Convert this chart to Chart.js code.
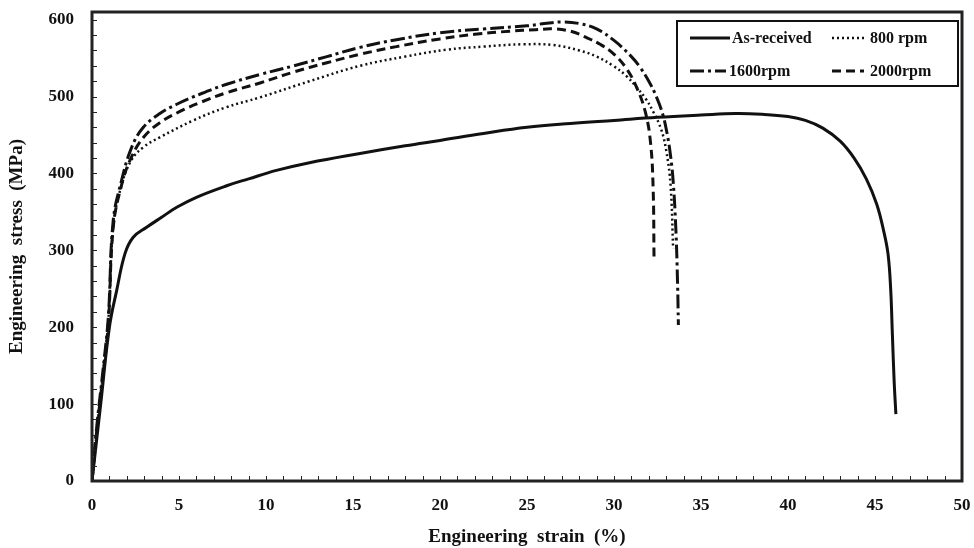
<!DOCTYPE html>
<html lang="en">
<head>
  <meta charset="UTF-8" />
  <title>Engineering stress-strain curves</title>
  <script src="https://cdn.jsdelivr.net/npm/chart.js"></script>
  <style>
    html, body { margin: 0; padding: 0; background: #fff; }
    .chart-box { width: 974px; height: 548px; position: relative; }
  </style>
</head>
<body>
  <div class="chart-box">
    <canvas id="ssChart"></canvas>
  </div>

  <script>
    // tick labels
    const xTicks = [0, 5, 10, 15, 20, 25, 30, 35, 40, 45, 50];
    const yTicks = [0, 100, 200, 300, 400, 500, 600];

    // As-received
    const asStrain = [0, 0.5, 1.0, 1.42, 1.9, 2.37, 3.14, 4.0, 4.87, 6.0, 7.74, 9.0, 10.6, 12.5, 15.4, 18, 20, 22.5, 25, 27.5, 30, 32.5, 35, 37, 38.5, 40, 41, 42, 43, 43.8, 44.5, 45.1, 45.5, 45.75, 45.9, 46.0, 46.1, 46.2];
    const asStress = [0, 100, 200, 248, 296, 317, 330, 343, 356, 369, 384, 393, 404, 414, 426, 436, 443, 452, 460, 465, 469, 473, 476, 478, 477, 474, 469, 459, 442, 420, 393, 360, 325, 295, 250, 190, 130, 87];

    // 800 rpm
    const r800Strain = [0, 0.3, 0.65, 0.95, 1.22, 1.7, 2.28, 3.0, 3.9, 5.82, 7.7, 9.66, 12.5, 15.4, 18, 20.4, 22.5, 24.8, 26.5, 28.0, 29.0, 29.95, 30.7, 31.3, 31.8, 32.26, 32.7, 33.0, 33.25, 33.4];
    const r800Stress = [0, 70, 145, 212, 330, 385, 418, 435, 447, 469, 486, 499, 520, 540, 552, 561, 565, 568, 567, 560, 552, 540, 527, 512, 498, 480, 458, 430, 385, 302];

    // 1600 rpm
    const r1600Strain = [0, 0.27, 0.65, 0.94, 1.22, 1.7, 2.28, 2.95, 3.9, 4.87, 6.3, 7.74, 9.7, 11.6, 13.5, 15.4, 17.5, 20, 22.5, 25, 26, 27, 28, 29, 30, 31, 31.5, 32.0, 32.45, 32.8, 33.05, 33.25, 33.4, 33.55, 33.65, 33.7];
    const r1600Stress = [0, 70, 148, 214, 339, 391, 434, 460, 478, 490, 504, 516, 529, 540, 552, 564, 574, 583, 588, 592, 595, 597, 595, 588, 573, 552, 538, 520, 499, 477, 452, 423, 390, 330, 260, 203];

    // 2000 rpm
    const r2000Strain = [0, 0.27, 0.65, 0.94, 1.22, 1.7, 2.28, 3.0, 3.9, 5.0, 6.3, 7.74, 9.7, 11.6, 13.5, 15.4, 17.5, 20, 22, 24, 25.5, 26.5, 27.5, 28.4, 29.2, 29.96, 30.7, 31.3, 31.8, 32.1, 32.25, 32.3];
    const r2000Stress = [0, 65, 140, 205, 330, 385, 422, 448, 466, 480, 493, 505, 518, 532, 544, 555, 565, 575, 581, 585, 587, 588, 585, 577, 568, 556, 537, 512, 480, 440, 380, 291];

    const SERIF = '"Liberation Serif", "Times New Roman", serif';
    const INK = '#111';

    function toPoints(xs, ys) {
      return xs.map((x, i) => ({ x: x, y: ys[i] }));
    }

    function lineSet(label, xs, ys, dash, width) {
      return {
        label: label,
        data: toPoints(xs, ys),
        showLine: true,
        borderColor: INK,
        backgroundColor: INK,
        borderWidth: width,
        borderDash: dash,
        borderCapStyle: 'butt',
        pointRadius: 0,
        tension: 0.4,
        fill: false
      };
    }

    // frame, inward minor ticks and boxed legend
    const framePlugin = {
      id: 'frame',
      afterDatasetsDraw(chart) {
        const ctx = chart.ctx;
        const a = chart.chartArea;
        const xs = chart.scales.x;
        const ys = chart.scales.y;
        ctx.save();
        ctx.strokeStyle = '#222';

        ctx.lineWidth = 1;
        for (let v = 1; v < 50; v++) {
          const px = Math.round(xs.getPixelForValue(v)) + 0.5;
          ctx.beginPath();
          ctx.moveTo(px, a.bottom);
          ctx.lineTo(px, a.bottom - 5);
          ctx.stroke();
        }
        for (let v = 20; v <= 600; v += 20) {
          const py = Math.round(ys.getPixelForValue(v)) + 0.5;
          ctx.beginPath();
          ctx.moveTo(a.left, py);
          ctx.lineTo(a.left + 5, py);
          ctx.stroke();
        }

        ctx.lineWidth = 3;
        ctx.strokeRect(a.left, a.top, a.right - a.left, a.bottom - a.top);

        // legend box
        const bx = 677, by = 21, bw = 281, bh = 65;
        ctx.fillStyle = '#fff';
        ctx.fillRect(bx, by, bw, bh);
        ctx.lineWidth = 2;
        ctx.strokeStyle = INK;
        ctx.strokeRect(bx, by, bw, bh);

        const slots = [
          { x: 690, y: 38, len: 40, tx: 732 },
          { x: 832, y: 38, len: 32, tx: 870 },
          { x: 690, y: 71, len: 36, tx: 729 },
          { x: 832, y: 71, len: 32, tx: 870 }
        ];
        ctx.font = 'bold 16px ' + SERIF;
        ctx.textBaseline = 'middle';
        ctx.textAlign = 'left';
        chart.data.datasets.forEach((ds, i) => {
          const s = slots[i];
          ctx.beginPath();
          ctx.setLineDash(ds.borderDash || []);
          ctx.lineWidth = ds.borderWidth;
          ctx.lineCap = 'butt';
          ctx.moveTo(s.x, s.y);
          ctx.lineTo(s.x + s.len, s.y);
          ctx.stroke();
          ctx.setLineDash([]);
          ctx.fillStyle = INK;
          ctx.fillText(ds.label, s.tx, s.y + 1);
        });
        ctx.restore();
      }
    };

    new Chart(document.getElementById('ssChart'), {
      type: 'scatter',
      data: {
        datasets: [
          lineSet('As-received', asStrain, asStress, [], 3),
          lineSet('800 rpm', r800Strain, r800Stress, [2, 3], 2.5),
          lineSet('1600rpm', r1600Strain, r1600Stress, [14, 4, 3, 4], 3),
          lineSet('2000rpm', r2000Strain, r2000Stress, [9, 5], 3)
        ]
      },
      options: {
        responsive: true,
        maintainAspectRatio: false,
        animation: false,
        layout: { padding: { top: 12, right: 12, left: 0, bottom: 0 } },
        plugins: {
          legend: { display: false },
          tooltip: { enabled: false }
        },
        scales: {
          x: {
            type: 'linear',
            min: 0,
            max: 50,
            afterBuildTicks: s => { s.ticks = xTicks.map(v => ({ value: v })); },
            afterFit: s => { s.height = 67; s.paddingLeft = 0; s.paddingRight = 0; },
            grid: { display: false, drawTicks: false },
            border: { display: false },
            ticks: {
              padding: 14,
              color: INK,
              font: { family: SERIF, size: 17, weight: 'bold' }
            },
            title: {
              display: true,
              text: 'Engineering  strain  (%)',
              color: INK,
              padding: { top: 0, bottom: 0 },
              font: { family: SERIF, size: 19, weight: 'bold' }
            }
          },
          y: {
            type: 'linear',
            min: 0,
            max: 610,
            afterBuildTicks: s => { s.ticks = yTicks.map(v => ({ value: v })); },
            afterFit: s => { s.width = 92; s.paddingTop = 0; s.paddingBottom = 0; },
            grid: { display: false, drawTicks: false },
            border: { display: false },
            ticks: {
              padding: 18,
              color: INK,
              font: { family: SERIF, size: 17, weight: 'bold' }
            },
            title: {
              display: true,
              text: 'Engineering  stress  (MPa)',
              color: INK,
              padding: { top: 6, bottom: 0 },
              font: { family: SERIF, size: 19, weight: 'bold' }
            }
          }
        }
      },
      plugins: [framePlugin]
    });
  </script>
</body>
</html>
